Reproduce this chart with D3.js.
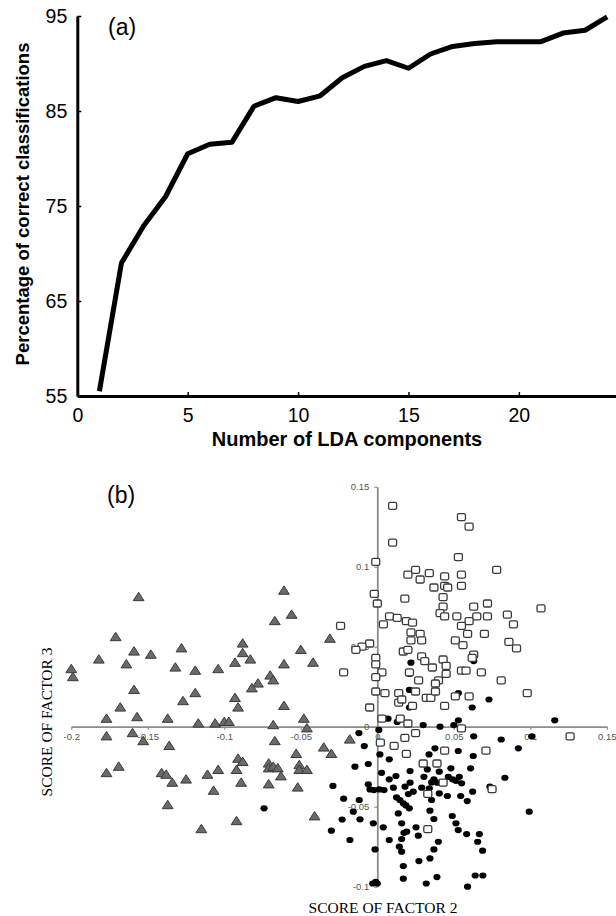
<!DOCTYPE html>
<html>
<head>
<meta charset="utf-8">
<script src="https://cdn.jsdelivr.net/npm/d3@7"></script>
<style>
  html, body { margin: 0; padding: 0; background: #fff; }
  svg { display: block; }
  .sans { font-family: "Liberation Sans", Arial, Helvetica, sans-serif; }
  .serif { font-family: "Liberation Serif", "Times New Roman", serif; }
</style>
</head>
<body>
<svg id="chart" width="616" height="916"></svg>
<script>
// ---- panel (a) data ----
const ldaComponents = [1, 2, 3, 4, 5, 6, 7, 8, 9, 10, 11, 12, 13, 14, 15, 16, 17, 18, 19, 20, 21, 22, 23, 24];
const pctCorrect = [55.5, 69.0, 72.9, 76.0, 80.5, 81.5, 81.7, 85.5, 86.4, 86.0, 86.6, 88.5,
                    89.7, 90.3, 89.5, 91.0, 91.8, 92.1, 92.3, 92.3, 92.3, 93.2, 93.5, 94.9];
const xTicksA = [0, 5, 10, 15, 20];
const yTicksA = [55, 65, 75, 85, 95];

// ---- panel (b) data: [factor 2, factor 3] ----
const triangles = [
  [-0.156,0.081],[-0.061,0.085],[-0.056,0.070],[-0.067,0.066],[-0.171,0.056],[-0.088,0.052],[-0.182,0.042],
  [-0.159,0.047],[-0.148,0.045],[-0.128,0.049],[-0.164,0.039],[-0.200,0.036],[-0.199,0.031],[-0.132,0.037],
  [-0.119,0.035],[-0.104,0.036],[-0.093,0.040],[-0.088,0.046],[-0.083,0.042],[-0.050,0.048],[-0.042,0.040],
  [-0.061,0.039],[-0.070,0.032],[-0.068,0.029],[-0.078,0.027],[-0.082,0.024],[-0.159,0.023],[-0.119,0.021],
  [-0.127,0.016],[-0.093,0.018],[-0.091,0.012],[-0.168,0.012],[-0.061,0.013],[-0.177,0.005],[-0.157,0.006],
  [-0.137,0.005],[-0.117,0.002],[-0.106,0.002],[-0.100,0.003],[-0.097,0.003],[-0.068,0.001],[-0.048,0.005],
  [-0.046,-0.001],[-0.177,-0.006],[-0.160,-0.004],[-0.153,-0.009],[-0.136,-0.012],[-0.067,-0.009],[-0.053,-0.017],
  [-0.091,-0.020],[-0.088,-0.022],[-0.092,-0.027],[-0.071,-0.023],[-0.071,-0.026],[-0.068,-0.025],[-0.065,-0.026],
  [-0.063,-0.031],[-0.051,-0.024],[-0.051,-0.027],[-0.046,-0.027],[-0.177,-0.029],[-0.169,-0.025],[-0.141,-0.029],
  [-0.138,-0.030],[-0.134,-0.035],[-0.125,-0.033],[-0.111,-0.030],[-0.104,-0.027],[-0.107,-0.040],[-0.089,-0.035],
  [-0.071,-0.036],[-0.052,-0.038],[-0.137,-0.049],[-0.092,-0.059],[-0.115,-0.064],[-0.041,-0.056],[-0.031,0.055],
  [-0.018,-0.008],[-0.035,-0.013],[-0.030,-0.017]
];
const circles = [
  [0.022,0.040],[0.021,0.033],[0.021,0.023],[0.063,0.041],[0.073,0.017],[0.062,0.012],[0.053,0.021],[0.021,0.012],
  [0.007,0.005],[0.013,0.003],[0.030,0.001],[0.041,0.000],[0.050,0.001],[0.053,0.004],[0.116,0.004],[0.101,-0.006],
  [0.081,-0.008],[0.063,-0.006],[0.001,-0.002],[-0.012,-0.004],
  [0.064,-0.093],[0.069,-0.093],[0.039,-0.094],[0.032,-0.098],[-0.003,-0.098],[-0.001,-0.097],[0.059,-0.100],
  [0.000,-0.098],[0.017,-0.095],
  [-0.022,-0.045],[-0.023,-0.058],[-0.030,-0.065],[-0.029,-0.037],[-0.074,-0.051],
  [-0.0085,-0.0121],[0.0017,-0.0173],[0.0078,-0.0204],[0.0377,-0.0135],[0.0338,-0.0173],[0.0529,-0.0152],
  [0.0627,-0.0183],[0.0922,-0.0135],[-0.0146,-0.0250],[-0.0059,-0.0233],[0.0028,-0.0288],[0.0078,-0.0329],
  [0.0122,-0.0308],[0.0214,-0.0277],[0.0305,-0.0313],[0.0327,-0.0267],[0.0405,-0.0281],[0.0481,-0.0260],
  [0.0610,-0.0260],[0.0834,-0.0319],[0.0536,-0.0313],[0.0464,-0.0313],[0.0492,-0.0329],[0.0514,-0.0338],
  [0.0551,-0.0354],[0.0370,-0.0329],[0.0355,-0.0348],[0.0392,-0.0350],[0.0214,-0.0350],[-0.0059,-0.0360],
  [-0.0048,-0.0392],[-0.0022,-0.0396],[0.0013,-0.0392],[0.0044,-0.0396],[0.0105,-0.0381],[0.0181,-0.0375],
  [0.0235,-0.0406],[0.0290,-0.0381],[0.0340,-0.0385],[0.0405,-0.0417],[0.0458,-0.0433],[0.0545,-0.0433],
  [0.0588,-0.0465],[0.0623,-0.0406],[0.0355,-0.0458],[0.0203,-0.0421],[0.0126,-0.0442],[0.0148,-0.0458],
  [0.0170,-0.0479],[0.0187,-0.0492],[0.0209,-0.0510],[0.0137,-0.0542],[0.0344,-0.0525],[0.0370,-0.0577],
  [0.0490,-0.0558],[0.0514,-0.0604],[0.0529,-0.0646],[0.0584,-0.0671],[0.0667,-0.0671],[0.0656,-0.0719],
  [0.0688,-0.0775],[0.0159,-0.0604],[0.0039,-0.0629],[-0.0026,-0.0604],[-0.0113,-0.0579],[-0.0157,-0.0531],
  [-0.0118,-0.0458],[0.0253,-0.0629],[0.0268,-0.0681],[0.0192,-0.0656],[0.0174,-0.0663],[0.0159,-0.0702],
  [0.0078,-0.0708],[0.0399,-0.0719],[0.0370,-0.0767],[0.0344,-0.0823],[0.0272,-0.0840],[0.0170,-0.0871],
  [0.0144,-0.0750],[0.0159,-0.0781],[-0.0015,-0.0767],[-0.0179,-0.0708],[0.0993,-0.0531],[0.0736,-0.0375]
];
const squares = [
  [0.010,0.138],[0.055,0.131],[0.060,0.125],[0.010,0.115],[-0.001,0.103],[0.053,0.106],[0.078,0.098],[0.020,0.095],
  [0.025,0.098],[0.028,0.092],[0.034,0.096],[0.044,0.094],[0.055,0.095],[0.037,0.087],[0.044,0.088],[0.046,0.087],
  [0.055,0.088],[-0.002,0.083],[0.000,0.077],[0.018,0.080],[0.043,0.081],[0.043,0.075],[0.041,0.071],[0.044,0.069],
  [0.052,0.069],[0.063,0.075],[0.072,0.077],[0.065,0.069],[0.072,0.069],[0.085,0.070],[0.107,0.074],[0.008,0.069],
  [0.013,0.068],[0.004,0.064],[0.019,0.066],[0.023,0.065],[0.060,0.066],[0.055,0.063],[0.089,0.064],[-0.024,0.063],
  [0.022,0.059],[0.028,0.058],[0.029,0.054],[0.022,0.054],[0.059,0.058],[0.070,0.058],[0.051,0.054],[0.056,0.051],
  [0.086,0.053],[0.091,0.049],[-0.005,0.052],[-0.010,0.050],[-0.014,0.048],[0.017,0.047],[0.020,0.048],[0.029,0.044],
  [0.031,0.041],[0.043,0.042],[0.063,0.045],[0.062,0.043],[-0.001,0.043],[-0.001,0.039],[0.003,0.034],[-0.022,0.034],
  [0.021,0.034],[0.036,0.037],[0.045,0.038],[0.045,0.033],[0.055,0.035],[0.058,0.035],[0.068,0.034],[0.081,0.029],
  [0.027,0.029],[0.040,0.029],[0.038,0.027],[-0.001,0.031],[-0.001,0.022],[0.005,0.021],[0.014,0.021],[0.025,0.022],
  [0.032,0.018],[0.035,0.018],[0.038,0.022],[0.051,0.019],[0.060,0.019],[0.098,0.021],[0.014,0.015],[0.016,0.017],
  [0.023,0.013],[0.044,0.013],[-0.005,0.012],[0.003,0.005],[0.015,0.005],[0.055,-0.001],[0.025,-0.004],[0.018,-0.007],
  [0.011,-0.012],[0.019,-0.017],[0.002,-0.010],[0.044,-0.015],[0.071,-0.015],[0.030,-0.023],[0.039,-0.023],
  [0.043,-0.035],[0.075,-0.039],[0.033,-0.042],[0.033,-0.064],[0.126,-0.006],[0.020,0.002]
];
const xTicksB = [-0.2, -0.15, -0.1, -0.05, 0, 0.05, 0.1, 0.15];
const xTickLabelsB = ["-0.2", "-0.15", "-0.1", "-0.05", "0", "0.05", "0.1", "0.15"];
const yTicksB = [-0.1, -0.05, 0, 0.05, 0.1, 0.15];
const yTickLabelsB = ["-0.1", "-0.05", "0", "0.05", "0.1", "0.15"];

const svg = d3.select("#chart");

// ================= panel (a) =================
const xA = d3.scaleLinear().domain([0, 24.4]).range([77.3, 616]);
const yA = d3.scaleLinear().domain([55, 95]).range([396, 16]);

const gA = svg.append("g").attr("class", "sans");

const xAxisA = gA.append("g")
  .attr("transform", `translate(0,${yA(55)})`)
  .call(d3.axisBottom(xA).tickValues(xTicksA).tickSize(-4).tickSizeOuter(0).tickPadding(12));
const yAxisA = gA.append("g")
  .attr("transform", `translate(${xA(0)},0)`)
  .call(d3.axisLeft(yA).tickValues(yTicksA).tickSize(-4).tickSizeOuter(0).tickPadding(10));

[xAxisA, yAxisA].forEach((ax) => {
  ax.select(".domain").attr("stroke", "#000").attr("stroke-width", 3);
  ax.selectAll(".tick line").attr("stroke", "#000").attr("stroke-width", 1.5);
  ax.selectAll(".tick text")
    .attr("fill", "#000")
    .attr("font-size", 19.5)
    .attr("font-family", "'Liberation Sans', Arial, sans-serif");
});

const line = d3.line()
  .x((d, i) => xA(ldaComponents[i]))
  .y((d) => yA(d));

gA.append("path")
  .datum(pctCorrect)
  .attr("d", line)
  .attr("fill", "none")
  .attr("stroke", "#000")
  .attr("stroke-width", 5)
  .attr("stroke-linejoin", "round");

gA.append("text")
  .attr("x", 108).attr("y", 35)
  .attr("font-size", 23)
  .text("(a)");

gA.append("text")
  .attr("transform", `translate(29,${yA(75) - 2}) rotate(-90)`)
  .attr("text-anchor", "middle")
  .attr("font-size", 18.5)
  .attr("font-weight", "bold")
  .text("Percentage of correct classifications");

gA.append("text")
  .attr("x", 347).attr("y", 446)
  .attr("text-anchor", "middle")
  .attr("font-size", 20)
  .attr("font-weight", "bold")
  .text("Number of LDA components");

// ================= panel (b) =================
const xB = d3.scaleLinear().domain([-0.2, 0.15]).range([71.3, 606.8]);
const yB = d3.scaleLinear().domain([-0.1, 0.15]).range([886.7, 486.7]);

const gB = svg.append("g");

const xAxisB = gB.append("g")
  .attr("transform", `translate(0,${yB(0)})`)
  .call(d3.axisBottom(xB).tickValues(xTicksB).tickSize(3).tickSizeOuter(0).tickPadding(4)
    .tickFormat((d, i) => xTickLabelsB[i]));
const yAxisB = gB.append("g")
  .attr("transform", `translate(${xB(0)},0)`)
  .call(d3.axisLeft(yB).tickValues(yTicksB).tickSize(3).tickSizeOuter(0).tickPadding(5)
    .tickFormat((d, i) => yTickLabelsB[i]));

[xAxisB, yAxisB].forEach((ax) => {
  ax.select(".domain").attr("stroke", "#8c8c8c").attr("stroke-width", 1.8);
  ax.selectAll(".tick line").attr("stroke", "#8c8c8c").attr("stroke-width", 1.2);
  ax.selectAll(".tick text")
    .attr("fill", "#555")
    .attr("font-size", 9.5)
    .attr("font-family", "'Liberation Sans', Arial, sans-serif");
});

// triangles
gB.append("g")
  .selectAll("path")
  .data(triangles)
  .join("path")
  .attr("transform", (d) => `translate(${xB(d[0])},${yB(d[1])})`)
  .attr("d", "M0,-4.8L5.4,3.6L-5.4,3.6Z")
  .attr("fill", "#6a6a6a")
  .attr("stroke", "#3a3a3a")
  .attr("stroke-width", 1);

// filled circles
gB.append("g")
  .selectAll("ellipse")
  .data(circles)
  .join("ellipse")
  .attr("cx", (d) => xB(d[0]))
  .attr("cy", (d) => yB(d[1]))
  .attr("rx", 3.6)
  .attr("ry", 3.1)
  .attr("fill", "#000");

// open squares
gB.append("g")
  .selectAll("rect")
  .data(squares)
  .join("rect")
  .attr("x", (d) => xB(d[0]) - 4)
  .attr("y", (d) => yB(d[1]) - 3.5)
  .attr("width", 8)
  .attr("height", 7)
  .attr("rx", 1.6)
  .attr("fill", "#fff")
  .attr("stroke", "#3a3a3a")
  .attr("stroke-width", 1.3);

gB.append("text")
  .attr("class", "sans")
  .attr("x", 107).attr("y", 503)
  .attr("font-size", 23)
  .text("(b)");

gB.append("text")
  .attr("class", "serif")
  .attr("x", 383).attr("y", 913)
  .attr("text-anchor", "middle")
  .attr("font-size", 15.5)
  .text("SCORE OF FACTOR 2");

gB.append("text")
  .attr("class", "serif")
  .attr("transform", `translate(52,722) rotate(-90)`)
  .attr("text-anchor", "middle")
  .attr("font-size", 15.5)
  .text("SCORE OF FACTOR 3");
</script>
</body>
</html>
